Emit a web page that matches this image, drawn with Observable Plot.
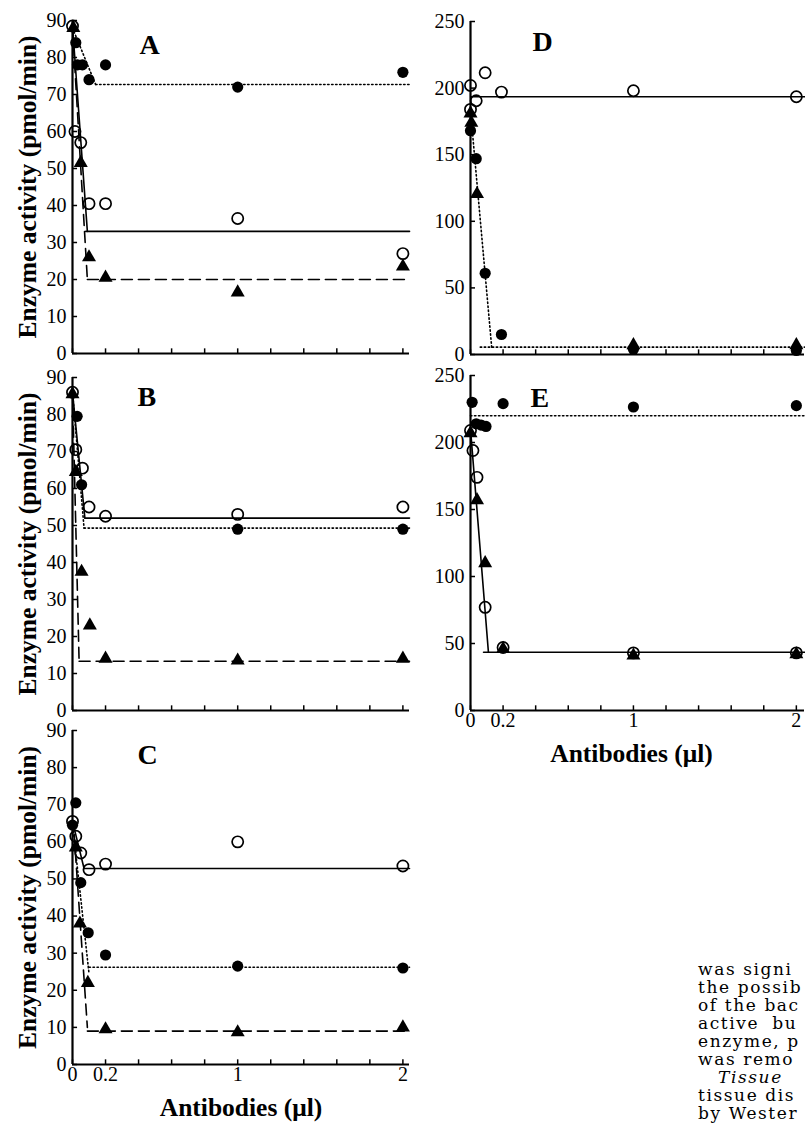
<!DOCTYPE html>
<html><head><meta charset="utf-8">
<script src="https://cdn.jsdelivr.net/npm/d3@7"></script>
<script src="https://cdn.jsdelivr.net/npm/@observablehq/plot@0.6"></script>
<style>
body{margin:0;background:#fff;}
#wrap{position:relative;width:805px;height:1123px;overflow:hidden;background:#fff;}
.panel{position:absolute;}
.panel svg{overflow:visible;}
#txt{position:absolute;left:698px;top:960px;font:17px "DejaVu Serif",serif;letter-spacing:1.6px;line-height:18px;white-space:nowrap;color:#000;}
#txt .ind{padding-left:20px;font-style:italic;}
#txt .wide{word-spacing:6px;}
</style></head>
<body><div id="wrap"></div>
<script>
// ---- axes ----
const xTicks = [0, 0.2, 0.4, 0.6, 0.8, 1, 1.2, 1.4, 1.6, 1.8, 2];
const xTickLabels = [0, 0.2, 1, 2];
const leftYTicks = [0, 10, 20, 30, 40, 50, 60, 70, 80, 90];
const rightYTicks = [0, 50, 100, 150, 200, 250];
const yTitle = "Enzyme activity (pmol/min)";
const xTitle = "Antibodies (\u03bcl)";

// ---- panel A ----
const aOpen = [[0,88.5],[0.015,60],[0.05,57],[0.1,40.5],[0.2,40.5],[1,36.5],[2,27]];
const aFilled = [[0.02,84],[0.03,78],[0.06,78],[0.1,74],[0.2,78],[1,72],[2,76]];
const aTri = [[0.005,88],[0.05,51.5],[0.1,26],[0.2,20.5],[1,16.5],[2,23.5]];
const aOpenFit = [[[0,88.5],[0.09,33]], [[0.08,33],[2.04,33]]];
const aFilledFit = [[[0,88],[0.14,72.7]], [[0.14,72.7],[2.04,72.7]]];
const aTriFit = [[[0,88],[0.09,20]], [[0.09,20],[2.04,20]]];

// ---- panel B ----
const bOpen = [[0,86],[0.02,70.5],[0.06,65.5],[0.1,55],[0.2,52.5],[1,53],[2,55]];
const bFilled = [[0.028,79.5],[0.055,61],[1,49],[2,49]];
const bTri = [[0,85.5],[0.02,64.5],[0.055,37.5],[0.105,23],[0.2,14],[1,13.5],[2,14]];
const bOpenFit = [[[0,86],[0.075,52]], [[0.075,52],[2.04,52]]];
const bFilledFit = [[[0,86],[0.07,49.3]], [[0.07,49.3],[2.04,49.3]]];
const bTriFit = [[[0,86],[0.04,13.3]], [[0.04,13.3],[2.04,13.3]]];

// ---- panel C ----
const cOpen = [[0,65.5],[0.02,61.5],[0.05,57],[0.1,52.5],[0.2,54],[1,60],[2,53.5]];
const cFilled = [[0,64.5],[0.02,70.5],[0.05,49],[0.095,35.5],[0.2,29.5],[1,26.5],[2,26]];
const cTri = [[0.02,58.5],[0.045,38],[0.093,22],[0.2,9.5],[1,8.7],[2,10]];
const cOpenFit = [[[0,65.5],[0.07,52.8]], [[0.07,52.8],[2.04,52.8]]];
const cFilledFit = [[[0,65],[0.1,24.5]], [[0.1,26.2],[2.04,26.2]]];
const cTriFit = [[[0.01,62],[0.09,10]], [[0.09,9],[2.04,9]]];

// ---- panel D ----
const dOpen = [[0,202],[0,184],[0.035,190.5],[0.09,211.5],[0.19,197],[1,198],[2,193.5]];
const dFilled = [[0,168],[0.035,147],[0.09,61],[0.19,15],[1,4],[2,3]];
const dTri = [[0,181],[0.005,174],[0.04,120.5],[1,7],[2,7]];
const dOpenFit = [[[0.005,193.5],[2.05,193.5]]];
const dFilledFit = [[[0,183],[0.13,5.5]], [[0.06,5.5],[2.05,5.5]]];

// ---- panel E ----
const eOpen = [[0,209],[0.015,194],[0.04,174],[0.09,77],[0.2,47],[1,43],[2,43]];
const eFilled = [[0.01,230],[0.035,214],[0.065,213],[0.095,212],[0.2,229],[1,226.5],[2,227.5]];
const eTri = [[0,207],[0.04,157],[0.09,110],[0.2,46],[1,41],[2,42]];
const eOpenFit = [[[0,210],[0.11,43.5]], [[0.08,43.5],[2.05,43.5]]];
const eFilledFit = [[[0,220],[2.05,220]]];

const textLines = ["was signi","the possib","of the bac","active bu","enzyme, p","was remo","Tissue","tissue dis","by Wester","carboxyl"];

// ---- drawing ----
const SERIF = '"Liberation Serif", "Times New Roman", serif';
const DOT = "1.4,2.6", DASH = "11,6";

function fitMarks(segs, dash) {
  return segs.map(s => Plot.line(s, {x: d => d[0], y: d => d[1], stroke: "black", strokeWidth: 1.6, strokeDasharray: dash}));
}

function panel(cfg) {
  const {yMax, yTicks, xMax, letter, ldx, ldy, open, filled, tri, fits, xLabels, yLabel, w, h, ml, mt, mb, tdx} = cfg;
  const marks = [
    Plot.axisY(yTicks, {tickSize: 0, tickPadding: 6, fontSize: 20}),
    Plot.ruleY(yTicks, {y: d => d, x1: 0, x2: xMax * 0.015, strokeWidth: 1.5}),
    Plot.ruleX(xTicks, {x: d => d, y1: 0, y2: yMax * 0.014, strokeWidth: 1.5}),
    Plot.ruleX([0], {y1: 0, y2: yMax, strokeWidth: 2.2}),
    Plot.ruleY([0], {x1: 0, x2: xMax, strokeWidth: 2.2}),
  ];
  if (xLabels) {
    marks.push(Plot.axisX(xTickLabels, {tickSize: 0, tickPadding: 2, fontSize: 20, tickFormat: d => String(d)}));
    marks.push(Plot.text([xTitle], {frameAnchor: "bottom", dx: tdx || 0, dy: 43, fontSize: 25.5, fontWeight: "bold", textAnchor: "middle", lineAnchor: "middle"}));
  }
  if (yLabel) {
    marks.push(Plot.text([yTitle], {frameAnchor: "left", dx: -45, rotate: -90, fontSize: 25.5, fontWeight: "bold", textAnchor: "middle", lineAnchor: "middle"}));
  }
  if (fits.open) marks.push(...fitMarks(fits.open, null));
  if (fits.filled) marks.push(...fitMarks(fits.filled, DOT));
  if (fits.tri) marks.push(...fitMarks(fits.tri, DASH));
  if (tri) marks.push(Plot.dot(tri, {x: d => d[0], y: d => d[1], symbol: "triangle", fill: "black", r: 5.2}));
  if (filled) marks.push(Plot.dot(filled, {x: d => d[0], y: d => d[1], fill: "black", r: 5.6}));
  if (open) marks.push(Plot.dot(open, {x: d => d[0], y: d => d[1], fill: "none", stroke: "black", strokeWidth: 1.7, r: 5.6}));
  marks.push(Plot.text([letter], {frameAnchor: "top-left", dx: ldx, dy: ldy, textAnchor: "start", lineAnchor: "top", fontSize: 28, fontWeight: "bold"}));
  return Plot.plot({
    width: w, height: h,
    marginLeft: ml, marginRight: 1, marginTop: mt, marginBottom: mb,
    x: {domain: [0, xMax], axis: null},
    y: {domain: [0, yMax], axis: null},
    style: {fontFamily: SERIF, fontSize: "20px", background: "transparent", color: "black", overflow: "visible"},
    marks
  });
}

const wrap = document.getElementById("wrap");
function place(svg, left, top) {
  const d = document.createElement("div");
  d.className = "panel";
  d.style.left = left + "px"; d.style.top = top + "px";
  d.appendChild(svg);
  wrap.appendChild(d);
}

const L = {yMax: 90, yTicks: leftYTicks, xMax: 2.04, w: 410, ml: 72, yLabel: true};
const R = {yMax: 250, yTicks: rightYTicks, xMax: 2.05, w: 405, ml: 70, yLabel: false};

place(panel({...R, letter: "D", ldx: 62, ldy: 10, open: dOpen, filled: dFilled, tri: dTri,
  fits: {open: dOpenFit, filled: dFilledFit}, xLabels: false, h: 366, mt: 21, mb: 12}), 400, 0);
place(panel({...R, letter: "E", ldx: 60, ldy: 12, open: eOpen, filled: eFilled, tri: eTri, tdx: -6,
  fits: {open: eOpenFit, filled: eFilledFit}, xLabels: true, h: 410, mt: 15, mb: 60}), 400, 360);

place(panel({...L, letter: "A", ldx: 67, ldy: 14, open: aOpen, filled: aFilled, tri: aTri,
  fits: {open: aOpenFit, filled: aFilledFit, tri: aTriFit}, xLabels: false, h: 366, mt: 20, mb: 13}), 0, 0);
place(panel({...L, letter: "B", ldx: 65, ldy: 9, open: bOpen, filled: bFilled, tri: bTri,
  fits: {open: bOpenFit, filled: bFilledFit, tri: bTriFit}, xLabels: false, h: 366, mt: 17, mb: 16}), 0, 360);
place(panel({...L, letter: "C", ldx: 65, ldy: 14, open: cOpen, filled: cFilled, tri: cTri,
  fits: {open: cOpenFit, filled: cFilledFit, tri: cTriFit}, xLabels: true, h: 403, mt: 10, mb: 59}), 0, 720);

const t = document.createElement("div");
t.id = "txt";
t.innerHTML = textLines.map(s => s === "Tissue" ? `<div class="ind">${s}</div>`
  : s === "active bu" ? `<div class="wide">${s}</div>` : `<div>${s}</div>`).join("");
wrap.appendChild(t);
</script>
</body></html>
